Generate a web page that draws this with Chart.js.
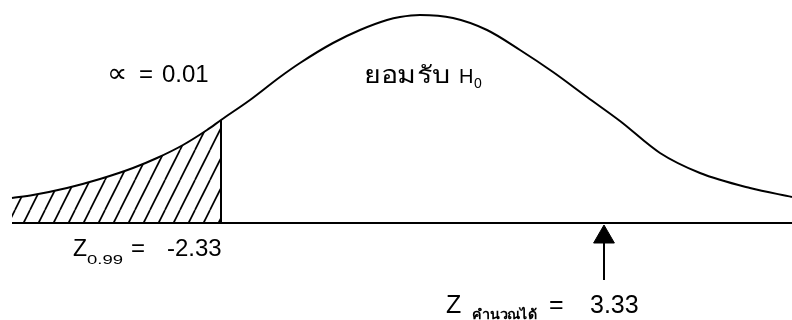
<!DOCTYPE html>
<html>
<head>
<meta charset="utf-8">
<script src="https://cdn.jsdelivr.net/npm/chart.js@4/dist/chart.umd.min.js"></script>
<style>
 body{margin:0;background:#fff;}
 #wrap{width:792px;height:320px;}
</style>
</head>
<body>
<div id="wrap"><canvas id="chart"></canvas></div>
<script>
// curve: horizontal position and height above the base line
let curveX = [12,33,67,100,133,157,183,207,221,250,280,300,333,360,387,400,420,453,487,520,553,587,620,660,700,750,792];
let curveY = [25,28,35,44,55,65,78,93,103,123,146,160,180,193,203,206,208,205,193,173,151,126,102,70,50,35,26];
let critX = 221;     // Z 0.99 = -2.33
let calcX = 604;     // Z calculated = 3.33
let baseX = [12,792];

let alphaLabel = ["∝","=","0.01"];
let acceptLabel = ["ยอมรับ","H","0"];
let critLabel = ["Z","0.99","=","-2.33"];
let calcLabel = ["Z","คำนวณได้","=","3.33"];

let curve = curveX.map((x,i)=>({x:x,y:curveY[i]}));
let tail = curve.filter(p=>p.x<=critX);
let critTop = curveY[curveX.indexOf(critX)];

// hatch pattern for the rejection area
function hatch(){
    let c=document.createElement("canvas");
    c.width=15; c.height=30;
    let g=c.getContext("2d");
    g.strokeStyle="#000"; g.lineWidth=1.7;
    [-15,0,15].forEach(o=>{
        g.beginPath(); g.moveTo(o,30); g.lineTo(o+15,0); g.stroke();
    });
    return g.createPattern(c,"repeat");
}

const fontMain='"Liberation Sans", Arial, "Noto Sans", sans-serif';

// text stretched to a given width (the thai in the picture is wide)
function wide(g,txt,x,y,w){
    let m=g.measureText(txt).width;
    g.save(); g.translate(x,y); g.scale(w/m,1); g.fillText(txt,0,0); g.restore();
}

const labels={
    id:"labels",
    afterDatasetsDraw(ch){
        let g=ch.ctx, xs=ch.scales.x, ys=ch.scales.y;
        let px=v=>xs.getPixelForValue(v), py=v=>ys.getPixelForValue(v);
        g.save();
        g.fillStyle="#000";
        g.textBaseline="alphabetic";

        // alpha
        let y0=py(141);
        g.font="27px "+fontMain;
        wide(g,alphaLabel[0],px(107),y0,20);
        g.font="24px "+fontMain;
        g.fillText(alphaLabel[1],px(139),y0);
        g.fillText(alphaLabel[2],px(162),y0);

        // accept region
        g.font="24px "+fontMain;
        wide(g,acceptLabel[0],px(364),py(140),86);
        g.font="20px "+fontMain;
        g.fillText(acceptLabel[1],px(459),py(140));
        g.font="14px "+fontMain;
        g.fillText(acceptLabel[2],px(474),py(135));

        // Z 0.99
        y0=py(-33);
        g.font="23px "+fontMain;
        g.fillText(critLabel[0],px(73),y0);
        g.font="13px "+fontMain;
        wide(g,critLabel[1],px(87),y0+8,36);
        g.font="24px "+fontMain;
        g.fillText(critLabel[2],px(131),y0);
        g.fillText(critLabel[3],px(167),y0);

        // Z calculated
        y0=py(-90);
        g.font="25px "+fontMain;
        g.fillText(calcLabel[0],px(446),y0);
        g.font="bold 13px "+fontMain;
        wide(g,calcLabel[1],px(472),y0+6,65);
        g.font="25px "+fontMain;
        g.fillText(calcLabel[2],px(549),y0);
        g.fillText(calcLabel[3],px(590),y0);
        g.restore();
    }
};

new Chart(document.getElementById("chart"),{
    type:"scatter",
    data:{datasets:[
        {data:tail,showLine:true,borderWidth:0,pointRadius:0,fill:"origin",
         backgroundColor:hatch(),cubicInterpolationMode:"monotone"},
        {data:curve,showLine:true,borderColor:"#000",borderWidth:2,pointRadius:0,fill:false,
         cubicInterpolationMode:"monotone"},
        {data:[{x:baseX[0],y:0},{x:baseX[1],y:0}],showLine:true,borderColor:"#000",borderWidth:2.2,pointRadius:0},
        {data:[{x:critX,y:0},{x:critX,y:critTop}],showLine:true,borderColor:"#000",borderWidth:2,pointRadius:0},
        {data:[{x:calcX,y:-20},{x:calcX,y:-57}],showLine:true,borderColor:"#000",borderWidth:2,pointRadius:0},
        {data:[{x:calcX,y:-14}],pointStyle:"triangle",pointRadius:12,
         backgroundColor:"#000",borderColor:"#000",borderWidth:1}
    ]},
    options:{
        responsive:true,maintainAspectRatio:false,animation:false,
        layout:{padding:0,autoPadding:false},
        plugins:{legend:{display:false},tooltip:{enabled:false}},
        scales:{
            x:{type:"linear",min:0,max:792,display:false},
            y:{type:"linear",min:-97,max:223,display:false}
        },
        elements:{line:{tension:0}}
    },
    plugins:[labels]
});
</script>
</body>
</html>
